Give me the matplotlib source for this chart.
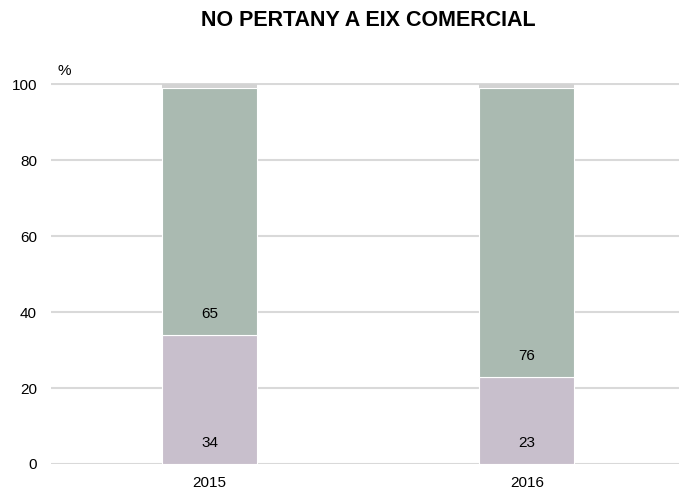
import matplotlib.pyplot as plt

plt.rcParams['font.family'] = ['Liberation Sans', 'DejaVu Sans']

years = ['2015', '2016']
seg_low = [34, 23]
seg_mid = [65, 76]
seg_top = [1, 1]

col_low = '#c8bfcc'
col_mid = '#aabab1'
col_top = '#d3d3d3'

fig = plt.figure(figsize=(6.79, 4.91), dpi=100)
ax = fig.add_axes([0.0751, 0.055, 0.9249, 0.776])

x = range(len(years))
ax.bar(x, seg_low, width=0.30, color=col_low, edgecolor='white', linewidth=0.8, zorder=3)
ax.bar(x, seg_mid, width=0.30, bottom=seg_low, color=col_mid, edgecolor='white', linewidth=0.8, zorder=3)
bottoms = [a + b for a, b in zip(seg_low, seg_mid)]
ax.bar(x, seg_top, width=0.30, bottom=bottoms, color=col_top, linewidth=0, zorder=3)

# value labels near base of each segment
for i in x:
    ax.text(i, 5.5, str(seg_low[i]), ha='center', va='center', fontsize=11, color='black', zorder=4)
    ax.text(i, seg_low[i] + 5.5, str(seg_mid[i]), ha='center', va='center', fontsize=11, color='black', zorder=4)

ax.set_xlim(-0.5, 1.48)
ax.set_ylim(0, 100.4)
ax.set_yticks([0, 20, 40, 60, 80, 100])
ax.set_xticks(list(x))
ax.set_xticklabels(years)
ax.yaxis.grid(True, color='#d9d9d9', linewidth=1.5, zorder=0)
ax.set_axisbelow(True)
for s in ax.spines.values():
    s.set_visible(False)
ax.tick_params(length=0, labelsize=11)
ax.tick_params(axis='y', pad=10)
ax.tick_params(axis='x', pad=9)

fig.text(0.084, 0.855, '%', fontsize=11, ha='left', va='center')
fig.text(0.543, 0.958, 'NO PERTANY A EIX COMERCIAL', fontsize=15.5, fontweight='bold',
         ha='center', va='center')

fig.savefig('out.png', dpi=100)
